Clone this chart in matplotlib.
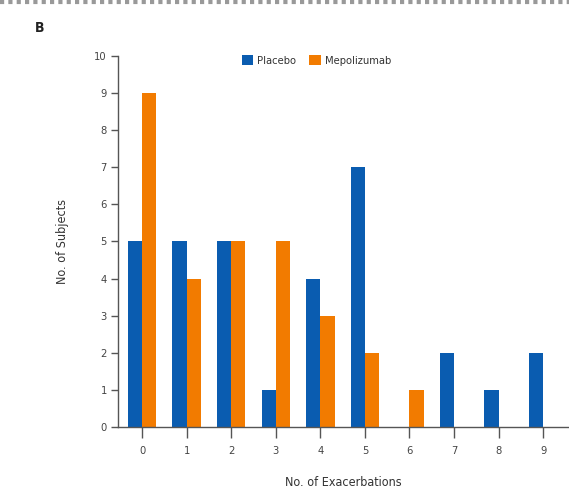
import matplotlib
matplotlib.use('Agg')
import matplotlib.pyplot as plt
import numpy as np

exacerbations = [0, 1, 2, 3, 4, 5, 6, 7, 8, 9]
placebo = [5, 5, 5, 1, 4, 7, 0, 2, 1, 2]
mepolizumab = [9, 4, 5, 5, 3, 2, 1, 0, 0, 0]

blue = '#0a5cb0'
orange = '#f27b00'
grey = '#555555'

plt.rcParams['font.stretch'] = 'condensed'

fig = plt.figure(figsize=(5.69, 4.93), dpi=100)
ax = fig.add_axes([0.2074, 0.1339, 0.7926, 0.7525])

x = np.array(exacerbations)
w = 0.32
ax.bar(x - w / 2, placebo, width=w, color=blue, label='Placebo', zorder=2)
ax.bar(x + w / 2, mepolizumab, width=w, color=orange, label='Mepolizumab', zorder=2)

ax.set_xlim(-0.54, 9.58)
ax.set_ylim(0, 10)
ax.set_xticks(exacerbations)
ax.set_yticks(range(0, 11))
ax.spines['top'].set_visible(False)
ax.spines['right'].set_visible(False)
for s in ['left', 'bottom']:
    ax.spines[s].set_color(grey)
    ax.spines[s].set_linewidth(1.0)
ax.tick_params(colors=grey, labelsize=8, width=1, direction='out')
ax.tick_params(axis='x', length=8, pad=6)
ax.tick_params(axis='y', length=5, pad=3)
for lab in ax.get_xticklabels() + ax.get_yticklabels():
    lab.set_color('#444444')

ax.set_xlabel('No. of Exacerbations', fontsize=9, color='#333333', labelpad=14)
ax.set_ylabel('No. of Subjects', fontsize=9, color='#333333', labelpad=18)

ax.legend(loc='upper center', bbox_to_anchor=(0.44, 1.03), ncol=2, frameon=False,
          fontsize=8, handlelength=1.0, handleheight=1.0, columnspacing=1.2,
          handletextpad=0.4, labelcolor='#333333')

fig.text(0.062, 0.935, 'B', fontsize=10, fontweight='bold', color='#222222')
fig.add_artist(plt.Line2D([0, 1], [0.995, 0.995], color='#999999', lw=3,
                          linestyle=(0, (1, 1)), transform=fig.transFigure))

fig.savefig('out.png', dpi=100)
